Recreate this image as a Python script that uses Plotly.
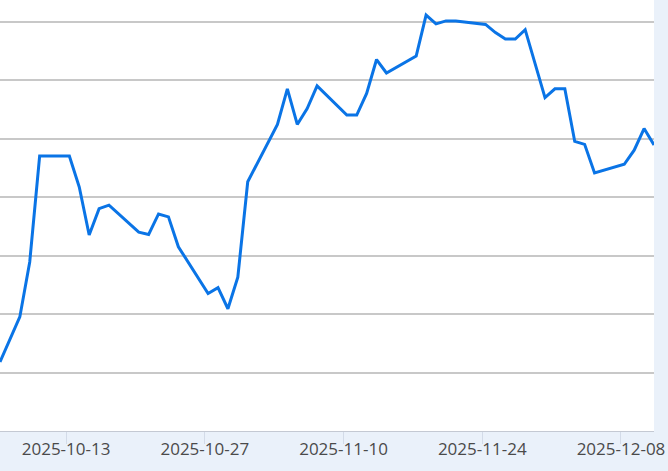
import pandas as pd
import plotly.graph_objects as go

# daily closing values
dates = ['2025-10-06', '2025-10-07', '2025-10-08', '2025-10-09', '2025-10-10',
         '2025-10-13', '2025-10-14', '2025-10-15', '2025-10-16', '2025-10-17',
         '2025-10-20', '2025-10-21', '2025-10-22', '2025-10-23', '2025-10-24',
         '2025-10-27', '2025-10-28', '2025-10-29', '2025-10-30', '2025-10-31',
         '2025-11-03', '2025-11-04', '2025-11-05', '2025-11-06', '2025-11-07',
         '2025-11-10', '2025-11-11', '2025-11-12', '2025-11-13', '2025-11-14',
         '2025-11-17', '2025-11-18', '2025-11-19', '2025-11-20', '2025-11-21',
         '2025-11-24', '2025-11-25', '2025-11-26', '2025-11-27', '2025-11-28',
         '2025-11-30', '2025-12-01', '2025-12-02', '2025-12-03', '2025-12-04',
         '2025-12-05', '2025-12-08', '2025-12-09', '2025-12-10', '2025-12-11']
values = [191.8, 195.7, 199.5, 208.9, 227.0,
          227.0, 221.7, 213.5, 218.0, 218.6,
          214.0, 213.6, 217.1, 216.6, 211.5,
          203.5, 204.5, 200.9, 206.3, 222.6,
          232.4, 238.5, 232.4, 235.1, 239.0,
          234.0, 234.0, 237.7, 243.5, 241.2,
          244.1, 251.1, 249.6, 250.1, 250.1,
          249.5, 248.1, 247.0, 247.0, 248.6,
          237.0, 238.5, 238.5, 229.5, 229.0,
          224.1, 225.6, 228.0, 231.7, 228.9]
tick_dates = ['2025-10-13', '2025-10-27', '2025-11-10', '2025-11-24', '2025-12-08']

# timestamps are taken at the same time of day (close)
x = pd.to_datetime(dates) + pd.Timedelta(hours=8)

fig = go.Figure()
fig.add_trace(go.Scatter(
    x=x, y=values, mode='lines',
    line=dict(color='#0a74e6', width=3),
    hoverinfo='skip', showlegend=False,
))

fig.update_layout(
    width=668, height=471,
    margin=dict(l=0, r=14, t=0, b=40),
    paper_bgcolor='#eaf1fa',
    plot_bgcolor='#ffffff',
    font=dict(family='Open Sans', size=17, color='#4a4a4a'),
    xaxis=dict(
        range=[x[0], x[-1]],
        tickvals=pd.to_datetime(tick_dates),
        ticktext=tick_dates,
        showgrid=False,
        showline=True, linecolor='#c4c9d3', linewidth=1,
        ticks='outside', ticklen=12, tickcolor='#d3dbe8', tickwidth=1,
        ticklabelstandoff=-9,
        zeroline=False,
    ),
    yaxis=dict(
        range=[180, 180 + 431 / 5.85],
        dtick=10, tick0=180,
        showticklabels=False,
        gridcolor='#c8c8c8', gridwidth=2,
        zeroline=False,
    ),
)

# drop the default page margin so the figure sits in the window corner
fig.write_html("out.html", config={'displayModeBar': False},
               post_script="document.body.style.margin='0';")
